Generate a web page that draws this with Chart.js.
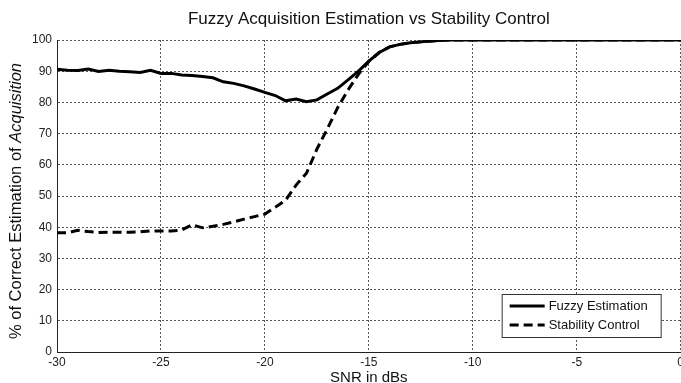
<!DOCTYPE html>
<html>
<head>
<meta charset="utf-8">
<script src="https://cdn.jsdelivr.net/npm/chart.js@4/dist/chart.umd.min.js"></script>
<style>
    html, body { margin: 0; padding: 0; background: #fff; overflow: hidden; }
    #wrap { width: 687px; height: 390px; }
</style>
</head>
<body>
<div id="wrap"><canvas id="snrChart" width="687" height="390"></canvas></div>
<script>
// SNR (dB) sample points
var snr = [-30, -29.5, -29, -28.5, -28, -27.5, -27, -26.5, -26, -25.5,
    -25, -24.5, -24, -23.5, -23, -22.5, -22, -21.5, -21, -20.5,
    -20, -19.5, -19, -18.5, -18, -17.5, -17, -16.5, -16, -15.5,
    -15, -14.5, -14, -13.5, -13, -12.5, -12, -11.5, -11, 0];

// % of correct estimation
var fuzzy = [90.6, 90.3, 90.2, 90.7, 89.9, 90.3, 90.0, 89.8, 89.6, 90.3,
    89.3, 89.3, 88.8, 88.6, 88.3, 87.9, 86.6, 86.1, 85.3, 84.3,
    83.2, 82.2, 80.5, 81.1, 80.2, 80.8, 82.7, 84.5, 87.2, 90.0,
    93.2, 96.0, 97.8, 98.6, 99.1, 99.4, 99.7, 99.9, 100, 100];

var stability = [38.2, 38.2, 39.0, 38.6, 38.3, 38.4, 38.4, 38.4, 38.5, 38.8,
    38.8, 38.8, 39.1, 40.8, 39.8, 40.3, 40.9, 41.7, 42.6, 43.4,
    44.2, 46.4, 48.7, 53.5, 57.3, 65.0, 71.5, 78.3, 84.0, 89.0,
    93.2, 96.0, 97.8, 98.6, 99.1, 99.4, 99.7, 99.9, 100, 100];

var seriesNames = ['Fuzzy Estimation', 'Stability Control'];
var xTicks = [-30, -25, -20, -15, -10, -5, 0];
var yTicks = [0, 10, 20, 30, 40, 50, 60, 70, 80, 90, 100];

var FONT = '"Liberation Sans", Arial, sans-serif';

function toPoints(ys) {
    var pts = [];
    for (var i = 0; i < snr.length; i++) {
        pts.push({ x: snr[i], y: ys[i] });
    }
    return pts;
}

// y title with the italic word, drawn as real text
var yTitlePlugin = {
    id: 'yTitle',
    afterDraw: function (chart) {
        var ctx = chart.ctx;
        var area = chart.chartArea;
        var plain = '% of Correct Estimation of ';
        var ital = 'Acquisition';
        var size = 16.5;
        ctx.save();
        ctx.font = size + 'px ' + FONT;
        var w1 = ctx.measureText(plain).width;
        ctx.font = 'italic ' + size + 'px ' + FONT;
        var w2 = ctx.measureText(ital).width;
        ctx.translate(16, (area.top + area.bottom) / 2 + 5);
        ctx.rotate(-Math.PI / 2);
        ctx.fillStyle = '#111';
        ctx.textBaseline = 'middle';
        ctx.textAlign = 'left';
        var start = -(w1 + w2) / 2;
        ctx.font = size + 'px ' + FONT;
        ctx.fillText(plain, start, 0);
        ctx.font = 'italic ' + size + 'px ' + FONT;
        ctx.fillText(ital, start + w1, 0);
        ctx.restore();
    }
};

// boxed legend inside the plot, bottom right
var boxLegendPlugin = {
    id: 'boxLegend',
    afterDraw: function (chart) {
        var ctx = chart.ctx;
        var area = chart.chartArea;
        var bw = 159, bh = 43;
        var bx = area.right - 20 - bw;
        var by = area.bottom - 15 - bh;
        ctx.save();
        ctx.fillStyle = '#fff';
        ctx.fillRect(bx, by, bw, bh);
        ctx.strokeStyle = '#333';
        ctx.lineWidth = 1;
        ctx.strokeRect(bx + 0.5, by + 0.5, bw, bh);
        ctx.font = '13px ' + FONT;
        ctx.textBaseline = 'middle';
        ctx.fillStyle = '#111';
        chart.data.datasets.forEach(function (ds, i) {
            var ly = by + 12 + i * 19;
            ctx.beginPath();
            ctx.setLineDash(ds.borderDash || []);
            ctx.lineWidth = 3;
            ctx.strokeStyle = '#000';
            ctx.moveTo(bx + 8, ly);
            ctx.lineTo(bx + 43, ly);
            ctx.stroke();
            ctx.setLineDash([]);
            ctx.fillText(ds.label, bx + 47, ly);
        });
        ctx.restore();
    }
};

new Chart(document.getElementById('snrChart'), {
    type: 'line',
    data: {
        datasets: [{
            label: seriesNames[0],
            data: toPoints(fuzzy),
            borderColor: '#000',
            borderWidth: 3,
            pointRadius: 0,
            tension: 0,
            clip: { left: 0, top: 0, right: 2, bottom: 2 }
        }, {
            label: seriesNames[1],
            data: toPoints(stability),
            borderColor: '#000',
            borderWidth: 3,
            borderDash: [9, 5],
            pointRadius: 0,
            tension: 0,
            clip: { left: 0, top: 0, right: 2, bottom: 2 }
        }]
    },
    options: {
        responsive: false,
        animation: false,
        devicePixelRatio: 1,
        layout: { padding: 0 },
        plugins: {
            legend: { display: false },
            tooltip: { enabled: false },
            title: {
                display: true,
                fullSize: false,
                text: 'Fuzzy Acquisition Estimation vs Stability Control',
                color: '#111',
                font: { family: FONT, size: 17, weight: 'normal' },
                padding: { top: 9, bottom: 10.6 }
            }
        },
        scales: {
            x: {
                type: 'linear',
                min: -30,
                max: 0,
                afterBuildTicks: function (scale) {
                    scale.ticks = xTicks.map(function (v) { return { value: v }; });
                },
                afterFit: function (scale) { scale.height = 38; },
                ticks: {
                    color: '#222',
                    padding: 3,
                    maxRotation: 0,
                    font: { family: FONT, size: 12 }
                },
                grid: {
                    color: '#555',
                    drawTicks: false
                },
                border: { display: true, color: '#222', width: 1, dash: [2, 2] },
                title: {
                    display: true,
                    text: 'SNR in dBs',
                    color: '#111',
                    font: { family: FONT, size: 15 },
                    padding: { top: 0, bottom: 3 }
                }
            },
            y: {
                min: 0,
                max: 100,
                afterBuildTicks: function (scale) {
                    scale.ticks = yTicks.map(function (v) { return { value: v }; });
                },
                afterFit: function (scale) { scale.width = 57; },
                ticks: {
                    color: '#222',
                    padding: 5,
                    font: { family: FONT, size: 12 }
                },
                grid: {
                    color: '#555',
                    drawTicks: false
                },
                border: { display: true, color: '#222', width: 1, dash: [2, 2] }
            }
        }
    },
    plugins: [yTitlePlugin, boxLegendPlugin]
});
</script>
</body>
</html>
